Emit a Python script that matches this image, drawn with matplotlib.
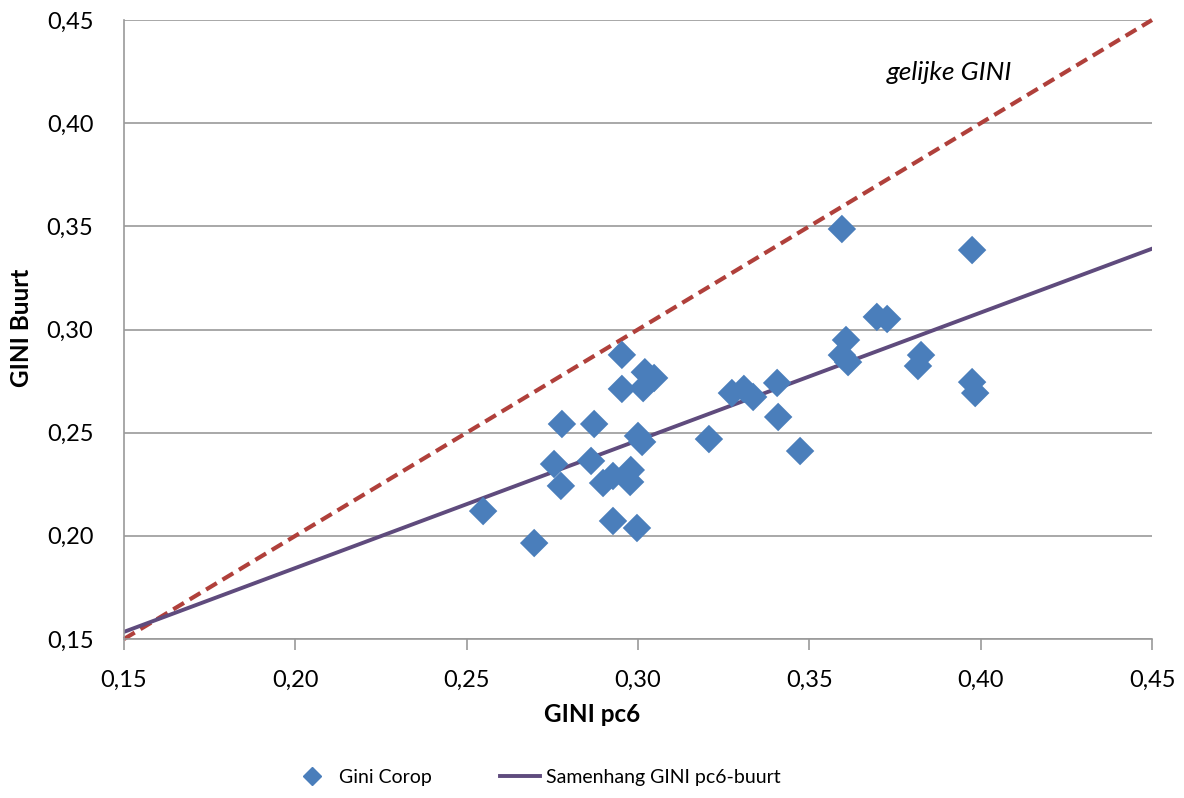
import matplotlib
matplotlib.use("Agg")
import matplotlib.pyplot as plt
from matplotlib.lines import Line2D
import numpy as np

# Data
gini_pc6 = [0.2548, 0.2697, 0.2755, 0.2775, 0.2778, 0.2863, 0.2872, 0.2898, 0.2927, 0.2927,
            0.2953, 0.2953, 0.2979, 0.2977, 0.2997, 0.3000, 0.3012, 0.3020, 0.3015, 0.3047,
            0.3595, 0.3975, 0.3697, 0.3727, 0.3607, 0.3595, 0.3613, 0.3826, 0.3817, 0.3975,
            0.3984, 0.3274, 0.3309, 0.3336, 0.3406, 0.3409, 0.3207, 0.3473]
gini_buurt = [0.2120, 0.1965, 0.2348, 0.2242, 0.2542, 0.2363, 0.2542, 0.2256, 0.2290, 0.2072,
              0.2877, 0.2712, 0.2319, 0.2261, 0.2038, 0.2484, 0.2455, 0.2793, 0.2716, 0.2765,
              0.3487, 0.3385, 0.3061, 0.3051, 0.2949, 0.2876, 0.2842, 0.2876, 0.2823, 0.2745,
              0.2692, 0.2692, 0.2712, 0.2673, 0.2741, 0.2576, 0.2469, 0.2411]
trend_slope = 0.619
trend_intercept = 0.0606
line_x = [0.15, 0.45]
ticks = [0.15, 0.20, 0.25, 0.30, 0.35, 0.40, 0.45]
tick_labels = ["0,15", "0,20", "0,25", "0,30", "0,35", "0,40", "0,45"]

plt.rcParams['font.family'] = ['Lato', 'DejaVu Sans']

fig = plt.figure(figsize=(11.84, 7.98), dpi=100)
ax = fig.add_axes([124/1184, 1-639/798, (1152-124)/1184, (639-20)/798])

ax.set_xlim(0.15, 0.45)
ax.set_ylim(0.15, 0.45)
ax.set_yticks(ticks)
ax.set_xticks(ticks)
ax.set_yticklabels(tick_labels, fontsize=17)
ax.set_xticklabels(tick_labels, fontsize=17)
ax.yaxis.grid(True, color='#9a9a9a', linewidth=1.2)
ax.set_axisbelow(True)
for s in ['top', 'right']:
    ax.spines[s].set_visible(False)
for s in ['left', 'bottom']:
    ax.spines[s].set_color('#9a9a9a')
    ax.spines[s].set_linewidth(1.2)
ax.tick_params(axis='x', length=8, color='#9a9a9a', width=1.2, pad=14)
ax.tick_params(axis='y', length=0, pad=22)

lx = np.array(line_x)
ax.plot(lx, lx, linestyle=(0, (3, 1.6)), color='#B0403B', linewidth=3, zorder=2, clip_on=False)
ax.plot(lx, trend_intercept + trend_slope * lx, color='#5F4B7D', linewidth=2.8, zorder=2)
ax.scatter(gini_pc6, gini_buurt, marker='D', s=210, color='#4A7EBB', edgecolors='none', zorder=3)

ax.text(0.3727, 0.421, "gelijke GINI", fontsize=19, style='italic', color='black',
        va='baseline', ha='left')

ax.set_xlabel("GINI pc6", fontsize=17.5, fontweight='bold')
ax.xaxis.set_label_coords((592-124)/1028, -(714-639)/619)
ax.xaxis.label.set_va('center')
ax.set_ylabel("GINI Buurt", fontsize=17.5, fontweight='bold')
ax.yaxis.set_label_coords(-(124-22)/1028, (639-328)/619)
ax.yaxis.label.set_va('center')

handles = [Line2D([], [], marker='D', linestyle='none', color='#4A7EBB', markersize=9),
           Line2D([], [], color='#5F4B7D', linewidth=2.8)]
fig.legend(handles, ["Gini Corop", "Samenhang GINI pc6-buurt"], loc='center left',
           bbox_to_anchor=(292/1184, 1-777/798), ncol=2, frameon=False, fontsize=14,
           columnspacing=3.5, handlelength=2.1, handletextpad=0.3,
           borderpad=0, borderaxespad=0)

fig.savefig("out.png", dpi=100)
